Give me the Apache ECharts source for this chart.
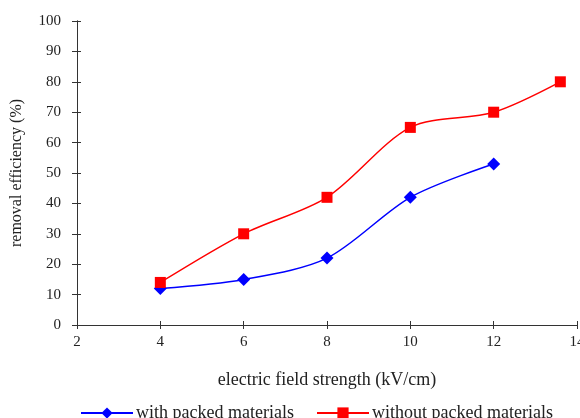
<!DOCTYPE html>
<html>
<head>
<meta charset="utf-8">
<script src="https://cdn.jsdelivr.net/npm/echarts@6/dist/echarts.min.js"></script>
<style>html,body{margin:0;padding:0;background:#fff;}#c{width:580px;height:418px;}</style>
</head>
<body>
<div id="c"></div>
<script>
var withPacked = [[4, 12], [6, 15], [8, 22], [10, 42], [12, 53]];
var withoutPacked = [[4, 14], [6, 30], [8, 42], [10, 65], [12, 70], [13.6, 80]];
var seriesNames = ['with packed materials', 'without packed materials'];
var xTitle = 'electric field strength (kV/cm)';
var yTitle = 'removal efficiency (%)';

var font = 'Liberation Serif, Times New Roman, serif';
var axisColor = '#333';
var textColor = '#222';
var chart = echarts.init(document.getElementById('c'));
chart.setOption({
  animation: false,
  textStyle: {fontFamily: font},
  grid: {left: 77, right: 3, top: 21, bottom: 93, containLabel: false, outerBoundsMode: 'none'},
  xAxis: [{
    type: 'value', min: 2, max: 14, interval: 2,
    name: xTitle, nameLocation: 'middle', nameGap: 46,
    nameTextStyle: {fontFamily: font, fontSize: 18, color: textColor},
    axisLine: {show: true, lineStyle: {color: axisColor, width: 1}},
    axisTick: {show: true, inside: false, length: 4, lineStyle: {color: axisColor}},
    axisLabel: {fontFamily: font, fontSize: 15, color: textColor, margin: 10},
    splitLine: {show: false}
  }, {
    type: 'value', min: 2, max: 14, interval: 2, position: 'bottom',
    axisLine: {show: true, onZero: false, lineStyle: {color: axisColor}},
    axisTick: {show: true, inside: true, length: 4, lineStyle: {color: axisColor}},
    axisLabel: {show: false}, splitLine: {show: false}
  }],
  yAxis: [{
    type: 'value', min: 0, max: 100, interval: 10,
    name: yTitle, nameLocation: 'middle', nameGap: 52,
    nameTextStyle: {fontFamily: font, fontSize: 16, color: textColor},
    axisLine: {show: true, lineStyle: {color: axisColor, width: 1}},
    axisTick: {show: true, inside: false, length: 5, lineStyle: {color: axisColor}},
    axisLabel: {fontFamily: font, fontSize: 15, color: textColor, margin: 16},
    splitLine: {show: false}
  }, {
    type: 'value', min: 0, max: 100, interval: 10, position: 'left',
    axisLine: {show: true, onZero: false, lineStyle: {color: axisColor}},
    axisTick: {show: true, inside: true, length: 4, lineStyle: {color: axisColor}},
    axisLabel: {show: false}, splitLine: {show: false}
  }],
  legend: [{
    top: 399, left: 75, itemWidth: 52, itemHeight: 14,
    textStyle: {fontFamily: font, fontSize: 18, color: textColor, padding: [0, 0, 0, -2]},
    data: [seriesNames[0]]
  }, {
    top: 399, left: 311, itemWidth: 52, itemHeight: 14,
    textStyle: {fontFamily: font, fontSize: 18, color: textColor, padding: [0, 0, 0, -2]},
    data: [seriesNames[1]]
  }],
  series: [{
    name: seriesNames[0], type: 'line', data: withPacked, smooth: 0.3,
    symbol: 'diamond', symbolSize: 13,
    lineStyle: {color: '#0000ff', width: 1.5},
    itemStyle: {color: '#0000ff'}
  }, {
    name: seriesNames[1], type: 'line', data: withoutPacked, smooth: 0.3,
    symbol: 'rect', symbolSize: 11,
    lineStyle: {color: '#ff0000', width: 1.5},
    itemStyle: {color: '#ff0000'}
  }]
});
</script>
</body>
</html>
